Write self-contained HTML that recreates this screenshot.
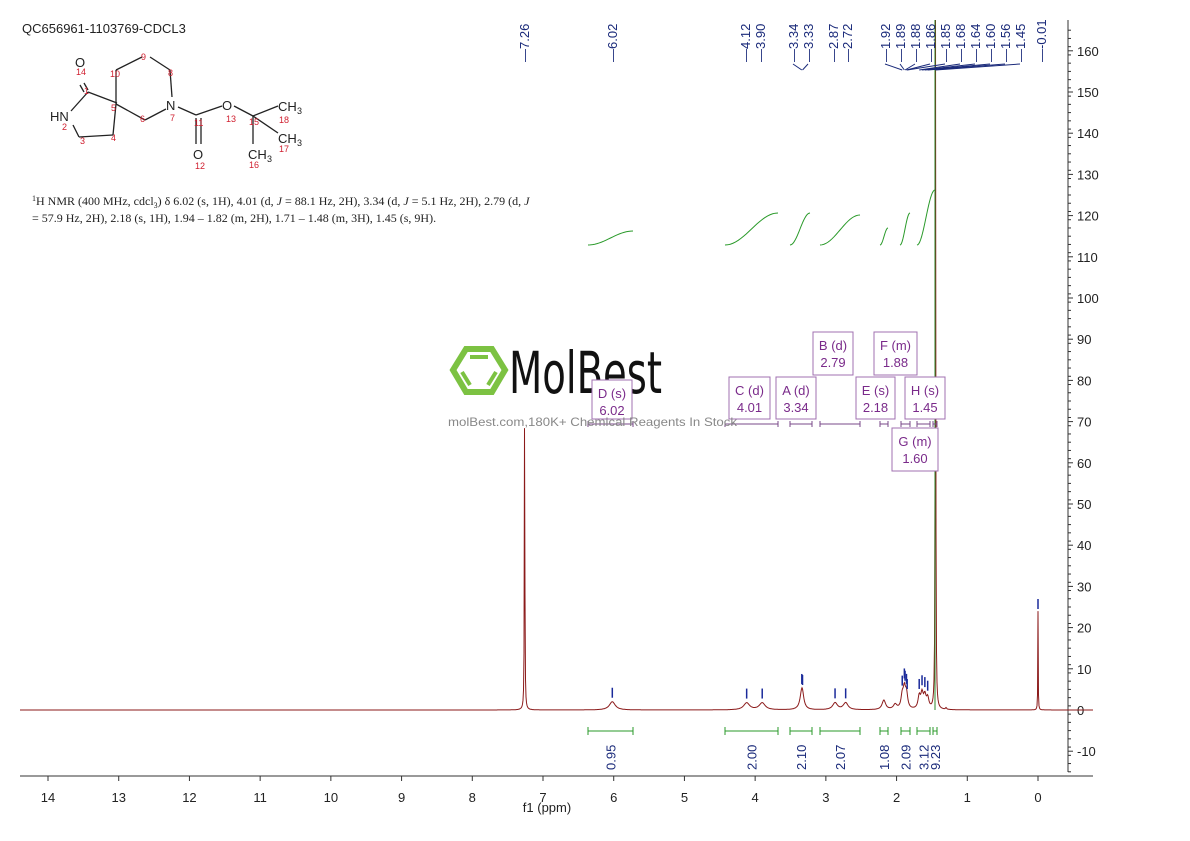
<!DOCTYPE html>
<html><head><meta charset="utf-8"><style>
body{margin:0;background:#fff;}
svg{display:block;font-family:"Liberation Sans",sans-serif;}
</style></head><body>
<svg id="s" width="1190" height="841" viewBox="0 0 1190 841" xmlns="http://www.w3.org/2000/svg">
<text x="22" y="33" font-size="13" fill="#222">QC656961-1103769-CDCL3</text>
<g stroke="#222" stroke-width="1.3" fill="none">
<line x1="84" y1="83" x2="88" y2="90"/><line x1="80" y1="85" x2="84" y2="92"/>
<line x1="88" y1="92" x2="117" y2="103"/>
<line x1="88" y1="92" x2="71" y2="111"/>
<line x1="73" y1="125" x2="79" y2="137"/>
<line x1="79" y1="137" x2="113" y2="135"/>
<line x1="113" y1="135" x2="116" y2="104"/>
<line x1="116" y1="104" x2="116" y2="70"/>
<line x1="116" y1="70" x2="142" y2="57"/>
<line x1="150" y1="57" x2="170" y2="70"/>
<line x1="170" y1="70" x2="172" y2="97"/>
<line x1="116" y1="104" x2="145" y2="120"/><line x1="145" y1="120" x2="166" y2="109"/>
<line x1="178" y1="107" x2="196" y2="115"/>
<line x1="196" y1="115" x2="222" y2="106"/>
<line x1="196" y1="118" x2="196" y2="144"/><line x1="201" y1="118" x2="201" y2="144"/>
<line x1="234" y1="106" x2="253" y2="116"/>
<line x1="253" y1="116" x2="278" y2="106"/>
<line x1="253" y1="116" x2="278" y2="133"/>
<line x1="253" y1="116" x2="253" y2="144"/>
</g>
<g font-size="13" fill="#222">
<text x="75" y="67">O</text><text x="50" y="121">HN</text><text x="166" y="110">N</text>
<text x="222" y="110">O</text><text x="193" y="159">O</text>
<text x="278" y="111">CH</text><text x="297" y="114" font-size="9">3</text>
<text x="278" y="143">CH</text><text x="297" y="146" font-size="9">3</text>
<text x="248" y="159">CH</text><text x="267" y="162" font-size="9">3</text>
</g>
<g font-size="9" fill="#d02030">
<text x="76" y="75">14</text><text x="84" y="94">1</text><text x="111" y="111">5</text><text x="62" y="130">2</text>
<text x="80" y="144">3</text><text x="111" y="141">4</text><text x="110" y="77">10</text><text x="141" y="60">9</text>
<text x="168" y="76">8</text><text x="140" y="122">6</text><text x="170" y="121">7</text><text x="194" y="126">11</text>
<text x="226" y="122">13</text><text x="249" y="125">15</text><text x="279" y="123">18</text><text x="279" y="152">17</text>
<text x="249" y="168">16</text><text x="195" y="169">12</text>
</g>
<text x="32" y="205" font-family="Liberation Serif,serif" font-size="12" fill="#222"><tspan font-size="8" dy="-4">1</tspan><tspan dy="4">H NMR (400 MHz, cdcl</tspan><tspan font-size="8" dy="3">3</tspan><tspan dy="-3">) δ 6.02 (s, 1H), 4.01 (d, </tspan><tspan font-style="italic">J</tspan> = 88.1 Hz, 2H), 3.34 (d, <tspan font-style="italic">J</tspan> = 5.1 Hz, 2H), 2.79 (d, <tspan font-style="italic">J</tspan></text>
<text x="32" y="222" font-family="Liberation Serif,serif" font-size="12" fill="#222">= 57.9 Hz, 2H), 2.18 (s, 1H), 1.94 – 1.82 (m, 2H), 1.71 – 1.48 (m, 3H), 1.45 (s, 9H).</text>

<g stroke="#333" stroke-width="1" fill="none">
<line x1="20" y1="776" x2="1093" y2="776"/>
<line x1="1068" y1="20" x2="1068" y2="772"/>
</g>
<g id="xt" font-size="13" fill="#222" text-anchor="middle"></g>
<g id="yt" font-size="13" fill="#222"></g>
<text x="547" y="812" font-size="13" fill="#222" text-anchor="middle">f1 (ppm)</text>

<g>
<polygon points="466,349 492,349 505,370 492,392 466,392 453,370" fill="none" stroke="#7cc242" stroke-width="6"/>
<line x1="470" y1="357" x2="488" y2="357" stroke="#7cc242" stroke-width="4"/>
<line x1="462" y1="372" x2="470" y2="385" stroke="#7cc242" stroke-width="4"/>
<line x1="496" y1="372" x2="488" y2="385" stroke="#7cc242" stroke-width="4"/>
<text x="509" y="393" font-size="58" fill="#111" textLength="153" lengthAdjust="spacingAndGlyphs" font-family="DejaVu Sans Condensed,Liberation Sans Narrow,sans-serif">MolBest</text>
</g>

<g id="spec"></g>
<g id="lab"></g>
<g id="boxes" font-size="13" fill="#7a2a8a" text-anchor="middle"></g>
<text x="448" y="426" font-size="12" fill="#888" textLength="289" lengthAdjust="spacingAndGlyphs">molBest.com,180K+ Chemical Reagents In Stock</text>
</svg>
<script>
var NS="http://www.w3.org/2000/svg";
function X(p){return 1038-70.714*p;}
function Y(v){return 710-4.12*v;}
function el(t,a,par,txt){var e=document.createElementNS(NS,t);for(var k in a)e.setAttribute(k,a[k]);if(txt!=null)e.textContent=txt;document.getElementById(par).appendChild(e);return e;}
for(var p=0;p<=14;p++){el("line",{x1:X(p),y1:776,x2:X(p),y2:781,stroke:"#333"},"xt");el("text",{x:X(p),y:802},"xt",p);}
for(var v=-10;v<=160;v+=10){el("line",{x1:1068,y1:Y(v),x2:1073,y2:Y(v),stroke:"#333"},"yt");el("text",{x:1077,y:Y(v)+5},"yt",v);}
for(var v=-15;v<=165;v+=2){if(v%10!=0)el("line",{x1:1068,y1:Y(v),x2:1071,y2:Y(v),stroke:"#333"},"yt");}
var peaks=[[7.26,80,0.004],[1.45,200,0.004],[0,24,0.003],[6.02,2,0.05],[4.12,1.7,0.05],[3.90,1.7,0.05],[3.34,4.5,0.03],[3.33,1,0.02],[2.87,1.7,0.04],[2.72,1.7,0.04],[2.18,2.3,0.03],[2.02,1.2,0.03],[1.92,3,0.02],[1.89,4.5,0.02],[1.86,3.5,0.02],[1.68,3,0.02],[1.64,3.5,0.02],[1.60,3,0.02],[1.56,2.5,0.02],[1.30,0.4,0.01]];
function spec(p){var s=0;for(var i=0;i<peaks.length;i++){var q=peaks[i],dd=(p-q[0])/q[2];s+=q[1]/(1+dd*dd);}return s;}
var d="";for(var x=20;x<=1093;x+=0.5){var p=(1038-x)/70.714;var y=Math.max(20,Y(spec(p)));d+=(x==20?"M":"L")+x+","+y.toFixed(1);}
el("path",{d:d,fill:"none",stroke:"#8b1a1a","stroke-width":1},"spec");
el("line",{x1:935,y1:20,x2:935,y2:710,stroke:"#2a8a2a","stroke-width":1},"spec");
function sig(x1,x2,y1,y2){var d="";for(var t=0;t<=1.0001;t+=0.05){var x=x1+(x2-x1)*t,f=0.5-0.5*Math.cos(Math.PI*t);d+=(t==0?"M":"L")+x+","+(y1+(y2-y1)*f);}el("path",{d:d,fill:"none",stroke:"#2a9a2a","stroke-width":1},"spec");}
sig(588,633,245,231);sig(725,778,245,213);sig(790,810,245,213);sig(820,860,245,215);sig(880,888,245,228);sig(900,910,245,213);sig(917,935,245,190);
var brs=[[588,633,"0.95"],[725,778,"2.00"],[790,812,"2.10"],[820,860,"2.07"],[880,888,"1.08"],[901,910,"2.09"],[917,930,"3.12"],[933,937,"9.23"]];
brs.forEach(function(b){el("line",{x1:b[0],y1:731,x2:b[1],y2:731,stroke:"#2a9a2a"},"spec");el("line",{x1:b[0],y1:727,x2:b[0],y2:735,stroke:"#2a9a2a"},"spec");el("line",{x1:b[1],y1:727,x2:b[1],y2:735,stroke:"#2a9a2a"},"spec");var cx=(b[0]+b[1])/2;el("text",{x:0,y:0,transform:"translate("+(cx+5)+",770) rotate(-90)","font-size":13,fill:"#1a2a7a"},"spec",b[2]);});
var tl=[[524,"7.26",7.26],[612,"6.02",6.02],[745,"4.12",4.12],[760,"3.90",3.90],[793,"3.34",3.34],[808,"3.33",3.33],[833,"2.87",2.87],[847,"2.72",2.72],[885,"1.92",1.92],[900,"1.89",1.89],[915,"1.88",1.88],[930,"1.86",1.86],[945,"1.85",1.85],[960,"1.68",1.68],[975,"1.64",1.64],[990,"1.60",1.60],[1005,"1.56",1.56],[1020,"1.45",1.45],[1041,"-0.01",0]];
tl.forEach(function(t){el("text",{x:0,y:0,transform:"translate("+(t[0]+5)+",62) rotate(-90)","font-size":13,fill:"#1a2a7a"},"lab","—"+t[1]);var px=X(t[2]);if(Math.abs(px-t[0])>3)el("line",{x1:t[0],y1:64,x2:px,y2:70,stroke:"#1a2a7a","stroke-width":1},"lab");
 if(t[2]!=7.26&&t[2]!=1.45){var top=Y(spec(t[2]));if(t[2]==0)top=613;el("line",{x1:px,y1:top-14,x2:px,y2:top-4,stroke:"#1a2a9a","stroke-width":1.5},"lab");}});
var bx=[[592,632,380,419,"D (s)","6.02"],[729,770,377,419,"C (d)","4.01"],[776,816,377,419,"A (d)","3.34"],[813,853,332,375,"B (d)","2.79"],[874,917,332,375,"F (m)","1.88"],[856,895,377,419,"E (s)","2.18"],[905,945,377,419,"H (s)","1.45"],[892,938,428,471,"G (m)","1.60"]];
bx.forEach(function(b){el("rect",{x:b[0],y:b[2],width:b[1]-b[0],height:b[3]-b[2],fill:"#fff",stroke:"#a070b0"},"boxes");var cx=(b[0]+b[1])/2;el("text",{x:cx,y:b[2]+18},"boxes",b[4]);el("text",{x:cx,y:b[2]+35},"boxes",b[5]);});
brs.forEach(function(b){el("line",{x1:b[0],y1:424,x2:b[1],y2:424,stroke:"#7a4a8a"},"boxes");el("line",{x1:b[0],y1:421,x2:b[0],y2:427,stroke:"#7a4a8a"},"boxes");el("line",{x1:b[1],y1:421,x2:b[1],y2:427,stroke:"#7a4a8a"},"boxes");});
</script>
</body></html>
